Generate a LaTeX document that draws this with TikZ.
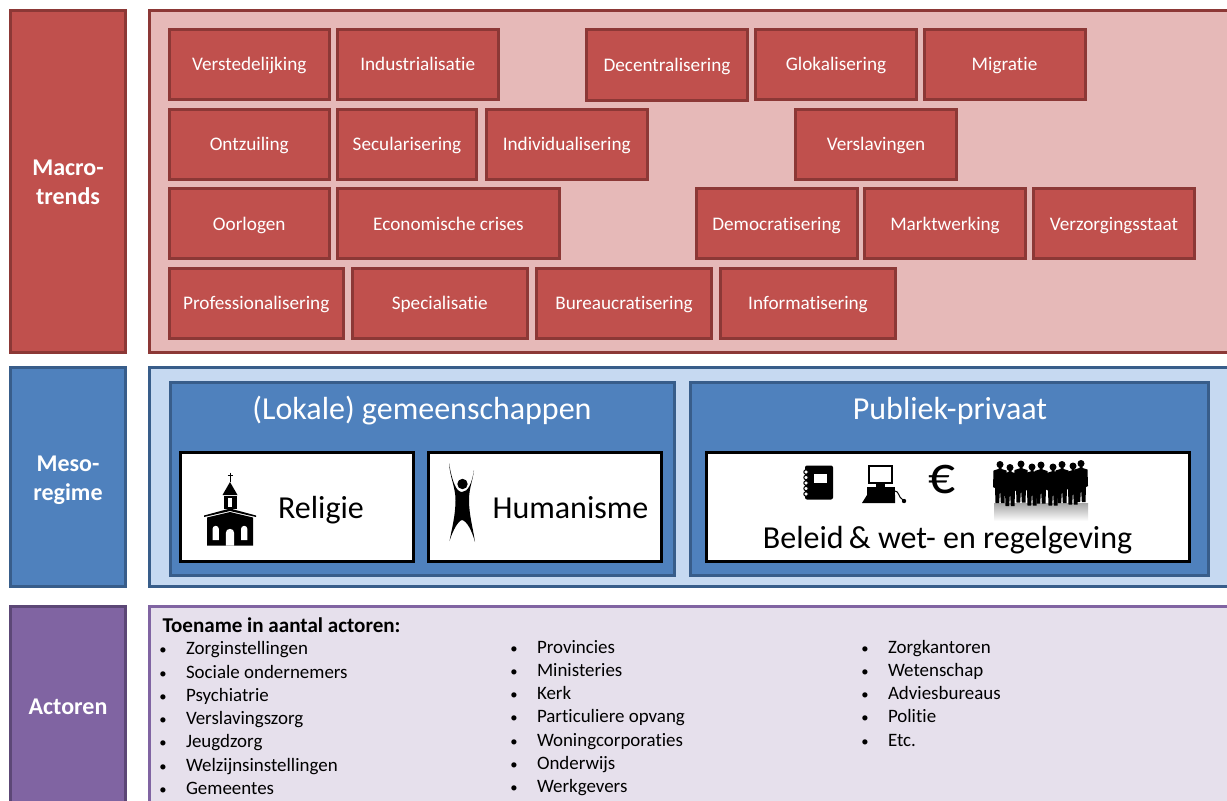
\documentclass[tikz,border=0pt]{standalone}
\usepackage{fontspec}
\setmainfont[Ligatures=NoCommon]{Carlito}
\usepackage{tikz}
\usetikzlibrary{positioning}
\definecolor{trendred}{HTML}{C0504D}
\definecolor{trendedge}{HTML}{8C3836}
\definecolor{trendlight}{HTML}{E6B9B8}
\definecolor{mesoblue}{HTML}{4F81BD}
\definecolor{mesoedge}{HTML}{385D8A}
\definecolor{mesolight}{HTML}{C6D9F1}
\definecolor{actorpurple}{HTML}{8064A2}
\definecolor{actoredge}{HTML}{5C4776}
\definecolor{actorlight}{HTML}{E6E0EC}
\newcommand{\itemdot}{\llap{{\fontsize{11}{11}\selectfont\textbullet}\hspace{14.5pt}}}
\tikzset{
  every picture/.style={line width=0.75pt},
  trendbox/.style={draw=trendedge,fill=trendred,line width=2.25pt},
  trendpanel/.style={draw=trendedge,fill=trendlight,line width=2.25pt},
  mesobox/.style={draw=mesoedge,fill=mesoblue,line width=2.25pt},
  mesopanel/.style={draw=mesoedge,fill=mesolight,line width=2.25pt},
  actorbox/.style={draw=actoredge,fill=actorpurple,line width=2.25pt},
  actorpanel/.style={draw=actorpurple,fill=actorlight,line width=2.25pt},
  whitebox/.style={draw=black,fill=white,line width=2.25pt},
  trendtext/.style={midway,text=white,font=\fontsize{14.4}{16}\selectfont,inner sep=0pt,text height=11pt,text depth=1.25pt},
  sidetext/.style={midway,text=white,align=center,font=\fontsize{18}{22}\selectfont\bfseries,inner sep=0pt},
  titletext/.style={text=white,font=\fontsize{24}{28}\selectfont,inner sep=0pt},
  bigtext/.style={text=black,font=\fontsize{24}{28}\selectfont,inner sep=0pt},
  listtext/.style={anchor=base west,text=black,font=\fontsize{14.2}{16}\selectfont,inner sep=0pt},
  person/.pic={
    \fill (0,3.5) circle (3.5);
    \fill (-1.5,6) -- (1.5,6) -- (1.5,8) -- (6.5,9.5) -- (7,26) -- (5,27) -- (4.5,42) -- (0.8,42) -- (0,28) -- (-0.8,42) -- (-4.5,42) -- (-5,27) -- (-7,26) -- (-6.5,9.5) -- (-1.5,8) -- cycle;
  }
}
\begin{document}
\begin{tikzpicture}[x=0.75pt,y=0.75pt,yscale=-1,xscale=1]
\path [use as bounding box,clip] (0,0) rectangle (1227,800);

%Side boxes
\draw [trendbox] (10.5,10) rectangle (125.5,352.5) node [sidetext,yshift=-0.7pt] (macro) {Macro-\\trends};
\draw [mesobox] (10.5,367.5) rectangle (125.5,586.5) node [sidetext,yshift=-2.2pt] (meso) {Meso-\\regime};
\draw [actorbox] (10.5,606.5) rectangle (125.5,808) node [sidetext] (actoren) {Actoren};

%Panels
\draw [trendpanel] (149,10) rectangle (1240,352.5);
\draw [mesopanel] (149,367.5) rectangle (1240,586.5);
\draw [actorpanel] (149,606.5) rectangle (1240,812);

%Macro-trends, row 1
\draw [trendbox] (169,29.5) rectangle (329.5,99) node [trendtext] (verstedelijking) {Verstedelijking};
\draw [trendbox] (337.5,29.5) rectangle (498,99) node [trendtext] (industrialisatie) {Industrialisatie};
\draw [trendbox] (586.5,29.5) rectangle (747.5,100) node [trendtext] (decentralisering) {Decentralisering};
\draw [trendbox] (755.5,29.5) rectangle (916.5,99) node [trendtext] (glokalisering) {Glokalisering};
\draw [trendbox] (924,29.5) rectangle (1085,99) node [trendtext] (migratie) {Migratie};
%Macro-trends, row 2
\draw [trendbox] (169,109) rectangle (329.5,179.5) node [trendtext] (ontzuiling) {Ontzuiling};
\draw [trendbox] (337.5,109) rectangle (476.5,179.5) node [trendtext] (secularisering) {Secularisering};
\draw [trendbox] (486,109) rectangle (647.5,179.5) node [trendtext] (individualisering) {Individualisering};
\draw [trendbox] (795.5,109) rectangle (956.5,179.5) node [trendtext] (verslavingen) {Verslavingen};
%Macro-trends, row 3
\draw [trendbox] (169,188.5) rectangle (329.5,258.5) node [trendtext] (oorlogen) {Oorlogen};
\draw [trendbox] (337.5,188.5) rectangle (559.5,258.5) node [trendtext] (crises) {Economische crises};
\draw [trendbox] (696,188.5) rectangle (857,258.5) node [trendtext] (democratisering) {Democratisering};
\draw [trendbox] (864.5,188.5) rectangle (1025.5,258.5) node [trendtext] (marktwerking) {Marktwerking};
\draw [trendbox] (1033.5,188.5) rectangle (1194.5,258.5) node [trendtext] (verzorgingsstaat) {Verzorgingsstaat};
%Macro-trends, row 4
\draw [trendbox] (169,268) rectangle (343.5,338.5) node [trendtext] (professionalisering) {Professionalisering};
\draw [trendbox] (352,268) rectangle (527.5,338.5) node [trendtext] (specialisatie) {Specialisatie};
\draw [trendbox] (536.5,268) rectangle (711.5,338.5) node [trendtext] (bureaucratisering) {Bureaucratisering};
\draw [trendbox] (720.5,268) rectangle (895.5,338.5) node [trendtext] (informatisering) {Informatisering};

%Meso-regime
\draw [mesobox] (170,382.5) rectangle (674.5,575.5);
\draw [mesobox] (690.5,382.5) rectangle (1208.5,575.5);
\draw (422,411) node [titletext] (lokaal) {(Lokale) gemeenschappen};
\draw (950,411) node [titletext] (publiek) {Publiek-privaat};
\draw [whitebox] (180.5,452) rectangle (413.5,561);
\draw [whitebox] (428.5,452) rectangle (661,561);
\draw [whitebox] (706,452) rectangle (1189.5,561);
\draw (321,510) node [bigtext] (religie) {Religie};
\draw (570.5,508) node [bigtext] (humanisme) {Humanisme};
\draw (947.5,540) node [bigtext] (beleid) {Beleid\,\& wet- en regelgeving};

%Church
\fill (204,515.5) -- (230,508.5) -- (256,515.5) -- (256,517) -- (230,511) -- (204,517) -- cycle;
\fill (207,517.5) -- (230,512) -- (253,517.5) -- (253,545.5) -- (207,545.5) -- cycle;
\fill (222.5,495) -- (230,482) -- (237.5,495) -- cycle;
\fill (223.5,496) rectangle (236.5,508.5);
\draw [line width=0.75pt] (230,472.5) -- (230,482) (227.5,475.5) -- (232.5,475.5);
\fill [white] (228,498) rectangle (232,507);
\fill [white] (212.5,540) -- (212.5,529) arc (180:360:3.2) -- (218.9,540) -- cycle;
\fill [white] (241,540) -- (241,529) arc (180:360:3.2) -- (247.4,540) -- cycle;
\fill [white] (225.8,545.5) -- (225.8,533) arc (180:360:4.2) -- (234.2,545.5) -- cycle;

%Humanist figure
\fill (449,463) .. controls (450,478) and (455.5,487) .. (455.5,500) .. controls (455.5,515) and (452,528) .. (449.5,541) .. controls (453,530) and (458,521) .. (462,520) .. controls (467,521) and (472,531) .. (475,542) .. controls (473,528) and (469,515) .. (469,500) .. controls (469,488) and (473,480) .. (474,470) .. controls (472,483) and (468,492) .. (462,492) .. controls (456,492) and (452,481) .. (449,463) -- cycle;
\fill (462.5,484) circle (5.2);

%Notebook
\fill [rounded corners=1.5pt] (805,465.5) rectangle (833,499.5);
\fill [white] (813.5,473.5) rectangle (827,482.5);
\draw [line width=0.75pt,fill=white] (806,472) circle (2.2);
\draw [line width=0.75pt,fill=white] (806,477.5) circle (2.2);
\draw [line width=0.75pt,fill=white] (806,483) circle (2.2);
\draw [line width=0.75pt,fill=white] (806,488.5) circle (2.2);
\draw [line width=0.75pt,fill=white] (806,494) circle (2.2);

%Computer
\draw [line width=1.1pt] (869,466) rectangle (892,483);
\fill (876,484) rectangle (885,487);
\fill (867,487) rectangle (895,495);
\fill (867,495) -- (895,495) -- (895,503) -- (862,503) -- cycle;
\draw [line width=0.75pt] (895,491) .. controls (899,491) and (898,497) .. (903,500);
\fill (904,501) circle (2.2);

%Euro sign
\draw (942,480) node [text=black,font=\fontsize{40}{42}\selectfont,inner sep=0pt] (euro) {€};

%People
\shade [top color=black!35,bottom color=white] (994,503) rectangle (1088,521);
\pic [transform shape] at (1000,461) {person};
\pic [transform shape] at (1010,464) {person};
\pic [transform shape] at (1021,460.5) {person};
\pic [transform shape] at (1032,463.5) {person};
\pic [transform shape] at (1041,461.5) {person};
\pic [transform shape] at (1053,463.5) {person};
\pic [transform shape] at (1062,461) {person};
\pic [transform shape] at (1073,462.5) {person};
\pic [transform shape] at (1081,460) {person};

%Actoren
\draw (162,632) node [listtext,font=\fontsize{15.8}{18}\selectfont\bfseries] (toename) {Toename in aantal actoren:};
\draw (185.5,654.7) node [listtext] (zorginst) {\itemdot Zorginstellingen};
\draw (185.5,678.7) node [listtext] (sociaal) {\itemdot Sociale ondernemers};
\draw (185.5,701.7) node [listtext] (psychiatrie) {\itemdot Psychiatrie};
\draw (185.5,724.7) node [listtext] (verslavingszorg) {\itemdot Verslavingszorg};
\draw (185.5,747.7) node [listtext] (jeugdzorg) {\itemdot Jeugdzorg};
\draw (185.5,771.7) node [listtext] (welzijn) {\itemdot Welzijnsinstellingen};
\draw (185.5,794.7) node [listtext] (gemeentes) {\itemdot Gemeentes};
\draw (536.5,653.7) node [listtext] (provincies) {\itemdot Provincies};
\draw (536.5,676.7) node [listtext] (ministeries) {\itemdot Ministeries};
\draw (536.5,699.7) node [listtext] (kerk) {\itemdot Kerk};
\draw (536.5,722.7) node [listtext] (opvang) {\itemdot Particuliere opvang};
\draw (536.5,746.7) node [listtext] (woning) {\itemdot Woningcorporaties};
\draw (536.5,769.7) node [listtext] (onderwijs) {\itemdot Onderwijs};
\draw (536.5,792.7) node [listtext] (werkgevers) {\itemdot Werkgevers};
\draw (887.5,653.7) node [listtext] (zorgkantoren) {\itemdot Zorgkantoren};
\draw (887.5,676.7) node [listtext] (wetenschap) {\itemdot Wetenschap};
\draw (887.5,699.7) node [listtext] (advies) {\itemdot Adviesbureaus};
\draw (887.5,722.7) node [listtext] (politie) {\itemdot Politie};
\draw (887.5,746.7) node [listtext] (etc) {\itemdot Etc.};

\end{tikzpicture}
\end{document}
